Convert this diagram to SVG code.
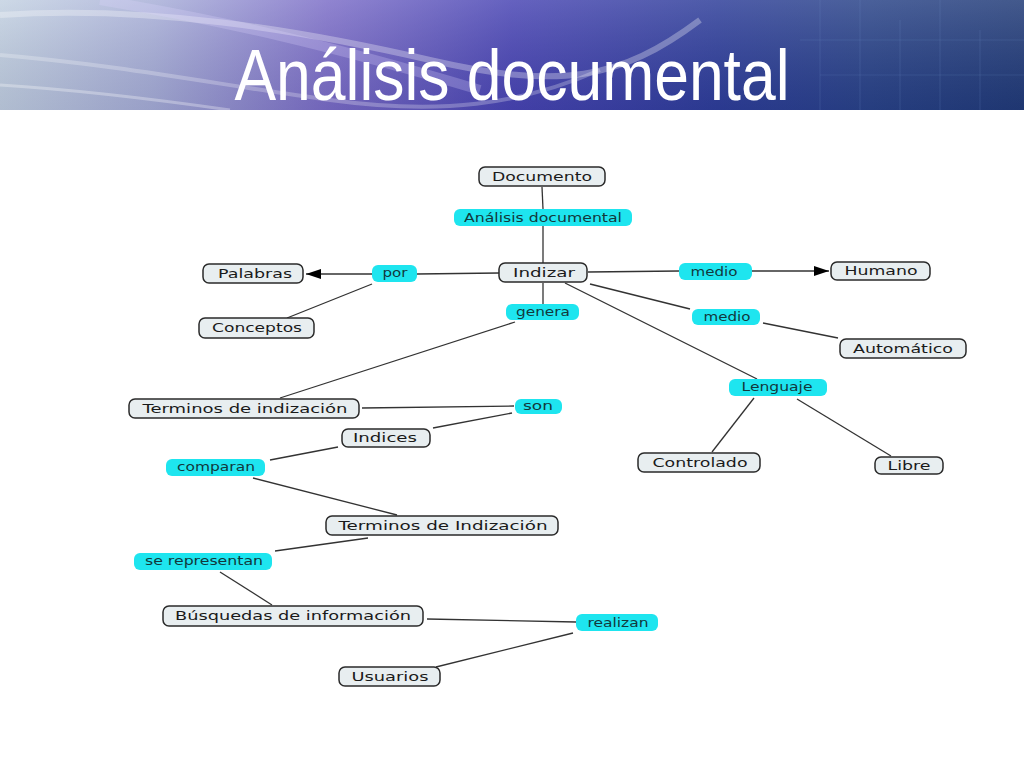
<svg xmlns="http://www.w3.org/2000/svg" width="1024" height="768" viewBox="0 0 1024 768">
<defs>
<linearGradient id="hdr" x1="0" y1="0" x2="1" y2="0">
<stop offset="0" stop-color="#c4d2e2"/>
<stop offset="0.15" stop-color="#a9b0d8"/>
<stop offset="0.32" stop-color="#7d6fc8"/>
<stop offset="0.5" stop-color="#4a46b4"/>
<stop offset="0.7" stop-color="#2f3f9a"/>
<stop offset="0.85" stop-color="#2a4488"/>
<stop offset="1" stop-color="#223c78"/>
</linearGradient>
<linearGradient id="shade" x1="0" y1="0" x2="0" y2="1">
<stop offset="0" stop-color="#ffffff" stop-opacity="0.15"/>
<stop offset="1" stop-color="#000030" stop-opacity="0.1"/>
</linearGradient>
<marker id="arr" markerUnits="userSpaceOnUse" markerWidth="16" markerHeight="10" refX="15" refY="5" orient="auto">
<path d="M0,0 L15,5 L0,10 Z" fill="#000"/>
</marker>
</defs>
<style>
.c rect{fill:#e8eef0;stroke:#2a2a2a;stroke-width:1.5}
.l rect{fill:#1ee5ef;stroke:none}
text.t{font-family:"DejaVu Sans",Verdana,sans-serif;font-size:11.5px;fill:#1a1a1a;text-anchor:middle}
.l text.t{fill:#12383c}
#connectors line{stroke:#333;stroke-width:1.3;fill:none}
</style>
<rect width="1024" height="768" fill="#ffffff"/>
<g id="header">
<rect x="0" y="0" width="1024" height="110" fill="url(#hdr)"/>
<rect x="0" y="0" width="1024" height="110" fill="url(#shade)"/>
<path d="M0,15 C150,5 300,30 430,60 S620,80 700,20" stroke="#ffffff" stroke-opacity="0.3" stroke-width="6" fill="none"/>
<path d="M0,55 C120,65 220,85 330,100 S520,105 600,70" stroke="#ffffff" stroke-opacity="0.25" stroke-width="4" fill="none"/>
<path d="M100,0 C220,20 330,45 480,90" stroke="#e0d8ff" stroke-opacity="0.25" stroke-width="10" fill="none"/>
<path d="M0,85 C80,90 160,100 230,110" stroke="#ffffff" stroke-opacity="0.3" stroke-width="3" fill="none"/>
<path d="M820,0 L820,110 M860,0 L860,110 M900,20 L900,110 M940,0 L940,110 M980,30 L980,110" stroke="#7fa0d8" stroke-opacity="0.12" stroke-width="1.5"/>
<path d="M800,40 L1024,40 M820,75 L1024,75" stroke="#7fa0d8" stroke-opacity="0.1" stroke-width="1.5"/>
<text x="512" y="100" textLength="555" lengthAdjust="spacingAndGlyphs" font-family="'Liberation Sans',Arial,sans-serif" font-size="72" fill="#ffffff" text-anchor="middle">Análisis documental</text>
</g>
<g id="connectors">
<line x1="542" y1="187" x2="543" y2="209"/>
<line x1="543" y1="226" x2="543" y2="263"/>
<line x1="499" y1="273" x2="417" y2="274"/>
<line x1="372" y1="274" x2="306" y2="274" marker-end="url(#arr)"/>
<line x1="372" y1="284" x2="287" y2="318"/>
<line x1="588" y1="272" x2="679" y2="271"/>
<line x1="752" y1="271" x2="829" y2="271" marker-end="url(#arr)"/>
<line x1="590" y1="284" x2="690" y2="309"/>
<line x1="763" y1="323" x2="838" y2="338"/>
<line x1="565" y1="283" x2="757" y2="379"/>
<line x1="543" y1="283" x2="543" y2="304"/>
<line x1="515" y1="322" x2="280" y2="398"/>
<line x1="362" y1="408" x2="514" y2="406"/>
<line x1="512" y1="413" x2="433" y2="428"/>
<line x1="338" y1="447" x2="270" y2="460"/>
<line x1="253" y1="478" x2="397" y2="515"/>
<line x1="368" y1="538" x2="275" y2="551"/>
<line x1="220" y1="572" x2="272" y2="605"/>
<line x1="427" y1="619" x2="576" y2="622"/>
<line x1="573" y1="633" x2="436" y2="667"/>
<line x1="754" y1="398" x2="712" y2="452"/>
<line x1="797" y1="399" x2="891" y2="456"/>
</g>
<g id="documento" class="c"><rect x="479" y="167" width="126" height="19" rx="6"/><text class="t" x="542" y="181" textLength="100" lengthAdjust="spacingAndGlyphs">Documento</text></g>
<g id="analisis" class="l"><rect x="454" y="209" width="178" height="17" rx="6"/><text class="t" x="543" y="222" textLength="158" lengthAdjust="spacingAndGlyphs">Análisis documental</text></g>
<g id="indizar" class="c"><rect x="499" y="263" width="88" height="19" rx="6"/><text class="t" x="544" y="277" textLength="62" lengthAdjust="spacingAndGlyphs">Indizar</text></g>
<g id="por" class="l"><rect x="372" y="265" width="45" height="17" rx="6"/><text class="t" x="395" y="277" textLength="25" lengthAdjust="spacingAndGlyphs">por</text></g>
<g id="palabras" class="c"><rect x="203" y="264" width="100" height="19" rx="6"/><text class="t" x="255" y="278" textLength="74" lengthAdjust="spacingAndGlyphs">Palabras</text></g>
<g id="conceptos" class="c"><rect x="199" y="318" width="115" height="20" rx="6"/><text class="t" x="257" y="332" textLength="90" lengthAdjust="spacingAndGlyphs">Conceptos</text></g>
<g id="medio1" class="l"><rect x="679" y="263" width="73" height="17" rx="6"/><text class="t" x="714" y="276" textLength="47" lengthAdjust="spacingAndGlyphs">medio</text></g>
<g id="humano" class="c"><rect x="831" y="262" width="99" height="18" rx="6"/><text class="t" x="881" y="275" textLength="73" lengthAdjust="spacingAndGlyphs">Humano</text></g>
<g id="genera" class="l"><rect x="506" y="304" width="73" height="16" rx="6"/><text class="t" x="543" y="316" textLength="54" lengthAdjust="spacingAndGlyphs">genera</text></g>
<g id="medio2" class="l"><rect x="692" y="309" width="68" height="16" rx="6"/><text class="t" x="727" y="321" textLength="47" lengthAdjust="spacingAndGlyphs">medio</text></g>
<g id="automatico" class="c"><rect x="840" y="339" width="126" height="19" rx="6"/><text class="t" x="903" y="353" textLength="100" lengthAdjust="spacingAndGlyphs">Automático</text></g>
<g id="lenguaje" class="l"><rect x="729" y="379" width="98" height="17" rx="6"/><text class="t" x="777" y="391" textLength="71" lengthAdjust="spacingAndGlyphs">Lenguaje</text></g>
<g id="controlado" class="c"><rect x="638" y="453" width="122" height="19" rx="6"/><text class="t" x="700" y="467" textLength="95" lengthAdjust="spacingAndGlyphs">Controlado</text></g>
<g id="libre" class="c"><rect x="875" y="457" width="68" height="17" rx="6"/><text class="t" x="909" y="470" textLength="43" lengthAdjust="spacingAndGlyphs">Libre</text></g>
<g id="terminos1" class="c"><rect x="129" y="399" width="230" height="19" rx="6"/><text class="t" x="245" y="413" textLength="205" lengthAdjust="spacingAndGlyphs">Terminos de indización</text></g>
<g id="son" class="l"><rect x="515" y="399" width="47" height="15" rx="6"/><text class="t" x="538" y="410" textLength="30" lengthAdjust="spacingAndGlyphs">son</text></g>
<g id="indices" class="c"><rect x="342" y="429" width="88" height="18" rx="6"/><text class="t" x="385" y="442" textLength="64" lengthAdjust="spacingAndGlyphs">Indices</text></g>
<g id="comparan" class="l"><rect x="166" y="459" width="99" height="17" rx="6"/><text class="t" x="216" y="471" textLength="78" lengthAdjust="spacingAndGlyphs">comparan</text></g>
<g id="terminos2" class="c"><rect x="326" y="516" width="232" height="19" rx="6"/><text class="t" x="443" y="530" textLength="209" lengthAdjust="spacingAndGlyphs">Terminos de Indización</text></g>
<g id="serepresentan" class="l"><rect x="134" y="553" width="138" height="17" rx="6"/><text class="t" x="204" y="565" textLength="118" lengthAdjust="spacingAndGlyphs">se representan</text></g>
<g id="busquedas" class="c"><rect x="163" y="606" width="260" height="20" rx="6"/><text class="t" x="293" y="620" textLength="236" lengthAdjust="spacingAndGlyphs">Búsquedas de información</text></g>
<g id="realizan" class="l"><rect x="576" y="614" width="82" height="17" rx="6"/><text class="t" x="618" y="627" textLength="61" lengthAdjust="spacingAndGlyphs">realizan</text></g>
<g id="usuarios" class="c"><rect x="339" y="667" width="101" height="19" rx="6"/><text class="t" x="390" y="681" textLength="77" lengthAdjust="spacingAndGlyphs">Usuarios</text></g>
</svg>
